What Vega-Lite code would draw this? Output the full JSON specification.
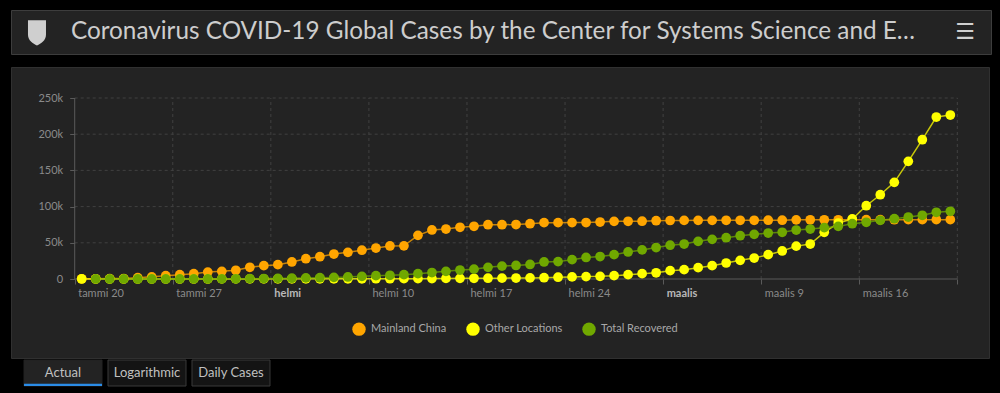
{
  "$schema": "https://vega.github.io/schema/vega-lite/v6.json",
  "background": "#000000",
  "padding": {"left": 10, "top": 9, "right": 10, "bottom": 12},
  "config": {"font": "Lato", "view": {"stroke": null}},
  "datasets": {
    "header": [{"item": "logo", "label": "Coronavirus COVID-19 Global Cases by the Center for Systems Science and E…"}, {"item": "menu", "label": "☰"}],
    "tabs": [{"tab": "Actual"}, {"tab": "Logarithmic"}, {"tab": "Daily Cases"}],
    "ygrid": [{"v": 50000}, {"v": 100000}, {"v": 150000}, {"v": 200000}, {"v": 250000}],
    "xgrid": [{"d": "2020-01-27"}, {"d": "2020-02-03"}, {"d": "2020-02-10"}, {"d": "2020-02-17"}, {"d": "2020-02-24"}, {"d": "2020-03-02"}, {"d": "2020-03-09"}, {"d": "2020-03-16"}, {"d": "2020-03-23"}],
    "cases": [
      {"date": "2020-01-20", "Mainland China": 280, "Other Locations": 10, "Total Recovered": null},
      {"date": "2020-01-21", "Mainland China": 310, "Other Locations": 20, "Total Recovered": 30},
      {"date": "2020-01-22", "Mainland China": 550, "Other Locations": 20, "Total Recovered": 30},
      {"date": "2020-01-23", "Mainland China": 640, "Other Locations": 30, "Total Recovered": 30},
      {"date": "2020-01-24", "Mainland China": 1800, "Other Locations": 40, "Total Recovered": 40},
      {"date": "2020-01-25", "Mainland China": 3000, "Other Locations": 50, "Total Recovered": 50},
      {"date": "2020-01-26", "Mainland China": 4600, "Other Locations": 60, "Total Recovered": 60},
      {"date": "2020-01-27", "Mainland China": 6000, "Other Locations": 70, "Total Recovered": 100},
      {"date": "2020-01-28", "Mainland China": 7400, "Other Locations": 80, "Total Recovered": 120},
      {"date": "2020-01-29", "Mainland China": 9500, "Other Locations": 90, "Total Recovered": 140},
      {"date": "2020-01-30", "Mainland China": 10600, "Other Locations": 100, "Total Recovered": 200},
      {"date": "2020-01-31", "Mainland China": 12000, "Other Locations": 130, "Total Recovered": 280},
      {"date": "2020-02-01", "Mainland China": 16200, "Other Locations": 150, "Total Recovered": 470},
      {"date": "2020-02-02", "Mainland China": 18400, "Other Locations": 160, "Total Recovered": 620},
      {"date": "2020-02-03", "Mainland China": 19800, "Other Locations": 180, "Total Recovered": 850},
      {"date": "2020-02-04", "Mainland China": 23500, "Other Locations": 200, "Total Recovered": 1100},
      {"date": "2020-02-05", "Mainland China": 28000, "Other Locations": 220, "Total Recovered": 1500},
      {"date": "2020-02-06", "Mainland China": 30800, "Other Locations": 250, "Total Recovered": 1800},
      {"date": "2020-02-07", "Mainland China": 34500, "Other Locations": 290, "Total Recovered": 2200},
      {"date": "2020-02-08", "Mainland China": 36800, "Other Locations": 310, "Total Recovered": 2800},
      {"date": "2020-02-09", "Mainland China": 39800, "Other Locations": 340, "Total Recovered": 3700},
      {"date": "2020-02-10", "Mainland China": 42800, "Other Locations": 380, "Total Recovered": 4600},
      {"date": "2020-02-11", "Mainland China": 45600, "Other Locations": 420, "Total Recovered": 5100},
      {"date": "2020-02-12", "Mainland China": 45800, "Other Locations": 450, "Total Recovered": 6000},
      {"date": "2020-02-13", "Mainland China": 60300, "Other Locations": 500, "Total Recovered": 7400},
      {"date": "2020-02-14", "Mainland China": 67700, "Other Locations": 550, "Total Recovered": 8900},
      {"date": "2020-02-15", "Mainland China": 69000, "Other Locations": 800, "Total Recovered": 10600},
      {"date": "2020-02-16", "Mainland China": 71400, "Other Locations": 900, "Total Recovered": 12400},
      {"date": "2020-02-17", "Mainland China": 72800, "Other Locations": 1000, "Total Recovered": 13600},
      {"date": "2020-02-18", "Mainland China": 75000, "Other Locations": 1100, "Total Recovered": 16100},
      {"date": "2020-02-19", "Mainland China": 75000, "Other Locations": 1200, "Total Recovered": 17800},
      {"date": "2020-02-20", "Mainland China": 75200, "Other Locations": 1300, "Total Recovered": 18700},
      {"date": "2020-02-21", "Mainland China": 76400, "Other Locations": 1500, "Total Recovered": 20100},
      {"date": "2020-02-22", "Mainland China": 77800, "Other Locations": 1800, "Total Recovered": 23500},
      {"date": "2020-02-23", "Mainland China": 77800, "Other Locations": 2500, "Total Recovered": 24000},
      {"date": "2020-02-24", "Mainland China": 77900, "Other Locations": 2900, "Total Recovered": 26700},
      {"date": "2020-02-25", "Mainland China": 78000, "Other Locations": 3300, "Total Recovered": 29700},
      {"date": "2020-02-26", "Mainland China": 78700, "Other Locations": 3700, "Total Recovered": 31000},
      {"date": "2020-02-27", "Mainland China": 79600, "Other Locations": 4600, "Total Recovered": 33600},
      {"date": "2020-02-28", "Mainland China": 79700, "Other Locations": 6000, "Total Recovered": 37300},
      {"date": "2020-02-29", "Mainland China": 79800, "Other Locations": 7400, "Total Recovered": 40200},
      {"date": "2020-03-01", "Mainland China": 80500, "Other Locations": 8600, "Total Recovered": 43500},
      {"date": "2020-03-02", "Mainland China": 80800, "Other Locations": 11500, "Total Recovered": 46700},
      {"date": "2020-03-03", "Mainland China": 80900, "Other Locations": 12900, "Total Recovered": 48300},
      {"date": "2020-03-04", "Mainland China": 81000, "Other Locations": 15700, "Total Recovered": 52000},
      {"date": "2020-03-05", "Mainland China": 81000, "Other Locations": 18400, "Total Recovered": 54800},
      {"date": "2020-03-06", "Mainland China": 81100, "Other Locations": 22100, "Total Recovered": 57000},
      {"date": "2020-03-07", "Mainland China": 81100, "Other Locations": 25800, "Total Recovered": 59800},
      {"date": "2020-03-08", "Mainland China": 81100, "Other Locations": 29000, "Total Recovered": 61700},
      {"date": "2020-03-09", "Mainland China": 81200, "Other Locations": 33600, "Total Recovered": 63500},
      {"date": "2020-03-10", "Mainland China": 81200, "Other Locations": 38700, "Total Recovered": 64500},
      {"date": "2020-03-11", "Mainland China": 81700, "Other Locations": 45400, "Total Recovered": 67600},
      {"date": "2020-03-12", "Mainland China": 81800, "Other Locations": 48300, "Total Recovered": 69000},
      {"date": "2020-03-13", "Mainland China": 81800, "Other Locations": 64500, "Total Recovered": 70900},
      {"date": "2020-03-14", "Mainland China": 81800, "Other Locations": 77300, "Total Recovered": 72700},
      {"date": "2020-03-15", "Mainland China": 81900, "Other Locations": 82900, "Total Recovered": 76400},
      {"date": "2020-03-16", "Mainland China": 81900, "Other Locations": 101200, "Total Recovered": 78300},
      {"date": "2020-03-17", "Mainland China": 81900, "Other Locations": 116400, "Total Recovered": 81100},
      {"date": "2020-03-18", "Mainland China": 81900, "Other Locations": 133500, "Total Recovered": 83300},
      {"date": "2020-03-19", "Mainland China": 82000, "Other Locations": 162500, "Total Recovered": 85600},
      {"date": "2020-03-20", "Mainland China": 82000, "Other Locations": 192400, "Total Recovered": 88000},
      {"date": "2020-03-21", "Mainland China": 82000, "Other Locations": 223700, "Total Recovered": 92100},
      {"date": "2020-03-22", "Mainland China": 82000, "Other Locations": 226500, "Total Recovered": 93500}
    ]
  },
  "spacing": 11,
  "resolve": {
    "scale": {"x": "independent", "y": "independent", "color": "independent", "stroke": "independent"},
    "axis": {"x": "independent", "y": "independent"},
    "legend": {"color": "independent", "stroke": "independent"}
  },
  "vconcat": [
    {
      "width": 980,
      "height": 44,
      "view": {"fill": "#232323", "stroke": "#3d3d3d"},
      "data": {"name": "header"},
      "layer": [
        {
          "transform": [{"filter": "datum.item == 'logo'"}],
          "mark": {"type": "point", "shape": "M -1 -1.3 L 1 -1.3 L 1 0.3 C 1 0.95 0.45 1.25 0 1.5 C -0.45 1.25 -1 0.95 -1 0.3 Z", "filled": true, "color": "#cfcfcf", "size": 324, "opacity": 1},
          "encoding": {
            "x": {"field": "item", "type": "nominal", "scale": {"type": "point", "domain": ["logo", "menu"], "padding": 0.028}, "axis": null}
          }
        },
        {
          "transform": [{"filter": "datum.item == 'logo'"}],
          "mark": {"type": "text", "font": "Lato", "fontSize": 24.3, "color": "#cdcdcd", "baseline": "middle", "align": "left", "dx": 34},
          "encoding": {
            "x": {"field": "item", "type": "nominal", "scale": {"type": "point", "domain": ["logo", "menu"], "padding": 0.028}, "axis": null},
            "text": {"field": "label"}
          }
        },
        {
          "transform": [{"filter": "datum.item == 'menu'"}],
          "mark": {"type": "text", "font": "DejaVu Sans", "fontSize": 22, "color": "#cfcfcf", "baseline": "middle"},
          "encoding": {
            "x": {"field": "item", "type": "nominal", "scale": {"type": "point", "domain": ["logo", "menu"], "padding": 0.028}, "axis": null},
            "text": {"field": "label"}
          }
        }
      ]
    },
    {
      "spacing": 0,
      "resolve": {
        "scale": {"x": "independent", "y": "independent", "color": "independent", "stroke": "independent"},
        "axis": {"x": "independent", "y": "independent"},
        "legend": {"color": "independent", "stroke": "independent"}
      },
      "vconcat": [
        {
          "width": 978,
          "height": 291,
          "view": {"fill": "#232323", "stroke": "#303030"},
          "layer": [
            {
              "data": {"name": "ygrid"},
              "mark": {"type": "rule", "strokeDash": [3, 3], "color": "#404040", "strokeWidth": 1},
              "encoding": {
                "y": {"field": "v", "type": "quantitative", "title": null, "scale": {"domain": [-109116, 292818], "nice": false, "zero": false}},
                "x": {"datum": {"year": 2020, "month": 1, "date": 20}, "type": "temporal", "scale": {"domain": [{"year": 2020, "month": 1, "date": 15, "hours": 10, "minutes": 53}, {"year": 2020, "month": 3, "date": 25, "hours": 6, "minutes": 14}], "nice": false}},
                "x2": {"datum": {"year": 2020, "month": 3, "date": 23}}
              }
            },
            {
              "data": {"name": "xgrid"},
              "mark": {"type": "rule", "strokeDash": [3, 3], "color": "#404040", "strokeWidth": 1},
              "encoding": {
                "x": {"field": "d", "timeUnit": "yearmonthdate", "type": "temporal", "title": null},
                "y": {"datum": 0, "type": "quantitative"},
                "y2": {"datum": 250000}
              }
            },
            {
              "data": {"values": [{}]},
              "mark": {"type": "rule", "color": "#5a5a5a", "strokeWidth": 1},
              "encoding": {
                "x": {"datum": {"year": 2020, "month": 1, "date": 20}, "type": "temporal"},
                "y": {"datum": 0, "type": "quantitative"},
                "y2": {"datum": 250000}
              }
            },
            {
              "data": {"values": [{}]},
              "mark": {"type": "rule", "color": "#5a5a5a", "strokeWidth": 1},
              "encoding": {
                "x": {"datum": {"year": 2020, "month": 1, "date": 20}, "type": "temporal"},
                "x2": {"datum": {"year": 2020, "month": 3, "date": 23}},
                "y": {"datum": 0, "type": "quantitative"}
              }
            },
            {
              "data": {"name": "cases"},
              "transform": [{"fold": ["Mainland China", "Other Locations", "Total Recovered"], "as": ["series", "value"]}],
              "mark": {"type": "line", "strokeWidth": 1.5, "opacity": 0.75},
              "encoding": {
                "x": {
                  "field": "date", "timeUnit": "yearmonthdate", "type": "temporal", "bandPosition": 0.5, "title": null,
                  "axis": {
                    "title": null,
                    "values": [
                      {"year": 2020, "month": 1, "date": 20}, {"year": 2020, "month": 1, "date": 27},
                      {"year": 2020, "month": 2, "date": 3}, {"year": 2020, "month": 2, "date": 10},
                      {"year": 2020, "month": 2, "date": 17}, {"year": 2020, "month": 2, "date": 24},
                      {"year": 2020, "month": 3, "date": 2}, {"year": 2020, "month": 3, "date": 9},
                      {"year": 2020, "month": 3, "date": 16}, {"year": 2020, "month": 3, "date": 23}
                    ],
                    "offset": -79, "domain": false, "grid": false, "tickSize": 5, "tickColor": "#5a5a5a",
                    "labelAlign": "left", "labelOffset": 3, "labelPadding": 3, "labelFontSize": 11, "labelFont": "Lato",
                    "labelOverlap": false, "labelFlush": false, "labelBound": false,
                    "labelColor": {"condition": {"test": "date(datum.value) < 7", "value": "#b8b8b8"}, "value": "#8a8a8a"},
                    "labelFontWeight": {"condition": {"test": "date(datum.value) < 7", "value": "bold"}, "value": "normal"},
                    "labelExpr": "(month(datum.value) == 2 && date(datum.value) == 23) ? '' : (date(datum.value) < 7 ? ['tammi','helmi','maalis'][month(datum.value)] : ['tammi','helmi','maalis'][month(datum.value)] + ' ' + date(datum.value))"
                  }
                },
                "y": {
                  "field": "value", "type": "quantitative", "title": null,
                  "axis": {
                    "title": null,
                    "values": [0, 50000, 100000, 150000, 200000, 250000],
                    "offset": -63.7, "domain": false, "grid": false, "tickSize": 5, "tickColor": "#5a5a5a",
                    "labelPadding": 7, "labelColor": "#8a8a8a", "labelFontSize": 11, "labelFont": "Lato",
                    "labelExpr": "datum.value == 0 ? '0' : (datum.value / 1000) + 'k'"
                  }
                },
                "stroke": {
                  "field": "series", "type": "nominal",
                  "scale": {"domain": ["Total Recovered", "Other Locations", "Mainland China"], "range": ["#70a800", "#ffff00", "#ffa500"]},
                  "legend": null
                }
              }
            },
            {
              "data": {"name": "cases"},
              "transform": [{"fold": ["Mainland China", "Other Locations", "Total Recovered"], "as": ["series", "value"]}],
              "mark": {"type": "point", "filled": true, "size": 95, "opacity": 1, "strokeWidth": 0},
              "encoding": {
                "x": {"field": "date", "timeUnit": "yearmonthdate", "type": "temporal", "bandPosition": 0.5, "title": null},
                "y": {"field": "value", "type": "quantitative", "title": null},
                "color": {
                  "field": "series", "type": "nominal",
                  "scale": {"domain": ["Mainland China", "Other Locations", "Total Recovered"], "range": ["#ffa500", "#ffff00", "#70a800"]},
                  "legend": {
                    "orient": "none", "legendX": 341, "legendY": 255, "direction": "horizontal", "title": null,
                    "symbolType": "circle", "symbolSize": 180, "symbolStrokeWidth": 0, "symbolOpacity": 1,
                    "labelColor": "#a8a8a8", "labelFontSize": 11, "labelFont": "Lato",
                    "columnPadding": 19, "labelOffset": 5
                  }
                }
              }
            }
          ]
        },
        {
          "width": 272,
          "height": 26,
          "data": {"name": "tabs"},
          "encoding": {
            "x": {"field": "tab", "type": "nominal", "sort": null, "scale": {"type": "band", "paddingInner": 0.0714, "paddingOuter": 0.155}, "axis": null}
          },
          "layer": [
            {
              "mark": {"type": "rect", "strokeWidth": 1},
              "encoding": {
                "fill": {"condition": {"test": "datum.tab == 'Actual'", "value": "#232323"}, "value": "#141414"},
                "stroke": {"condition": {"test": "datum.tab == 'Actual'", "value": "#232323"}, "value": "#3a3a3a"}
              }
            },
            {
              "transform": [{"filter": "datum.tab == 'Actual'"}],
              "mark": {"type": "rect", "color": "#2b8ce6"},
              "encoding": {
                "y": {"datum": 0, "type": "quantitative", "scale": {"domain": [0, 1]}, "axis": null},
                "y2": {"datum": 0.09}
              }
            },
            {
              "mark": {"type": "text", "fontSize": 13, "color": "#c0c0c0", "font": "Lato", "baseline": "middle"},
              "encoding": {"text": {"field": "tab"}}
            }
          ]
        }
      ]
    }
  ]
}
